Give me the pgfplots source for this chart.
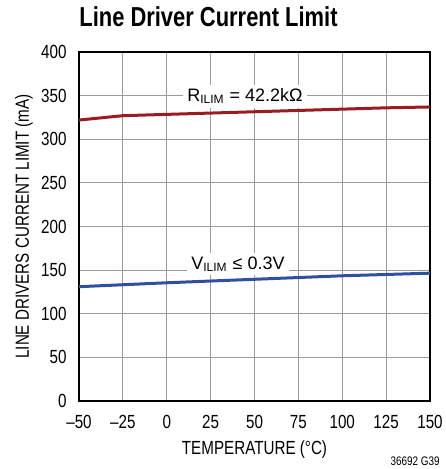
\documentclass[border=0pt]{standalone}
\usepackage{fontspec}
\setmainfont{Liberation Sans}[FakeStretch=0.8]
\newfontfamily\plainsans{Liberation Sans}
\usepackage{pgfplots}
\pgfplotsset{compat=1.18}
\definecolor{ltred}{HTML}{9B1B22}
\definecolor{ltblue}{HTML}{2F4F9F}
\definecolor{gridgray}{HTML}{9A9A9A}
\begin{document}
\begin{tikzpicture}
\begin{axis}[
    scale only axis,
    width=175.5pt, height=174.5pt,
    xmin=-50, xmax=150, ymin=0, ymax=400,
    xtick={-50,-25,0,25,50,75,100,125,150},
    xticklabels={--50,--25,0,25,50,75,100,125,150},
    ytick={0,50,100,150,200,250,300,350,400},
    /pgf/number format/assume math mode=true,
    tick label style={font=\fontsize{9.5}{10}\selectfont},
    xticklabel style={anchor=base, yshift=-13.5pt},
    yticklabel style={anchor=east, inner sep=0pt, xshift=-6pt},
    label style={font=\fontsize{9.5}{10}\selectfont},
    major tick length=0pt,
    grid=major,
    grid style={gridgray, line width=0.5pt},
    axis line style={line width=0.8pt},
    clip=false,
    xlabel={TEMPERATURE (°C)},
    ylabel={LINE DRIVERS CURRENT LIMIT (mA)},
    xlabel style={at={(axis description cs:0.5,0)}, anchor=base, yshift=-26.5pt},
    ylabel style={at={(axis description cs:-0.1425,0.5)}, anchor=base},
    title={\bfseries Line Driver Current Limit},
    title style={font=\fontsize{13.7}{14}\selectfont, anchor=base west, inner sep=0pt, at={(axis description cs:0,1)}, yshift=6.5pt},
]
% R_ILIM = 42.2k
\addplot[ltred, line width=1.5pt] coordinates {
    (-50,322)(-25,327)(0,328.5)(25,330)(50,331.5)(75,333)(100,334.5)(125,336)(150,337)
};
% V_ILIM <= 0.3V
\addplot[ltblue, line width=1.5pt] coordinates {
    (-50,131)(0,135.5)(50,139.5)(100,143.5)(150,146.5)
};
\node[fill=white, anchor=base, inner sep=2pt, font=\plainsans\fontsize{9}{10}\selectfont] at (axis cs:44.6,343) {R\textsubscript{ILIM} = 42.2kΩ};
\node[fill=white, anchor=base, inner sep=2pt, font=\plainsans\fontsize{9}{10}\selectfont] at (axis cs:40.6,151) {V\textsubscript{ILIM} ≤ 0.3V};
\node[anchor=base east, inner sep=0pt, font=\fontsize{6.2}{7}\selectfont] at (rel axis cs:1,0) [xshift=5pt, yshift=-32pt] {36692 G39};
\coordinate (sw) at (rel axis cs:0,0);
\coordinate (ne) at (rel axis cs:1,1);
\end{axis}
\pgfresetboundingbox
\path ([xshift=-39.5pt, yshift=-34pt]sw) rectangle ([xshift=7.5pt, yshift=26pt]ne);
\end{tikzpicture}
\end{document}
